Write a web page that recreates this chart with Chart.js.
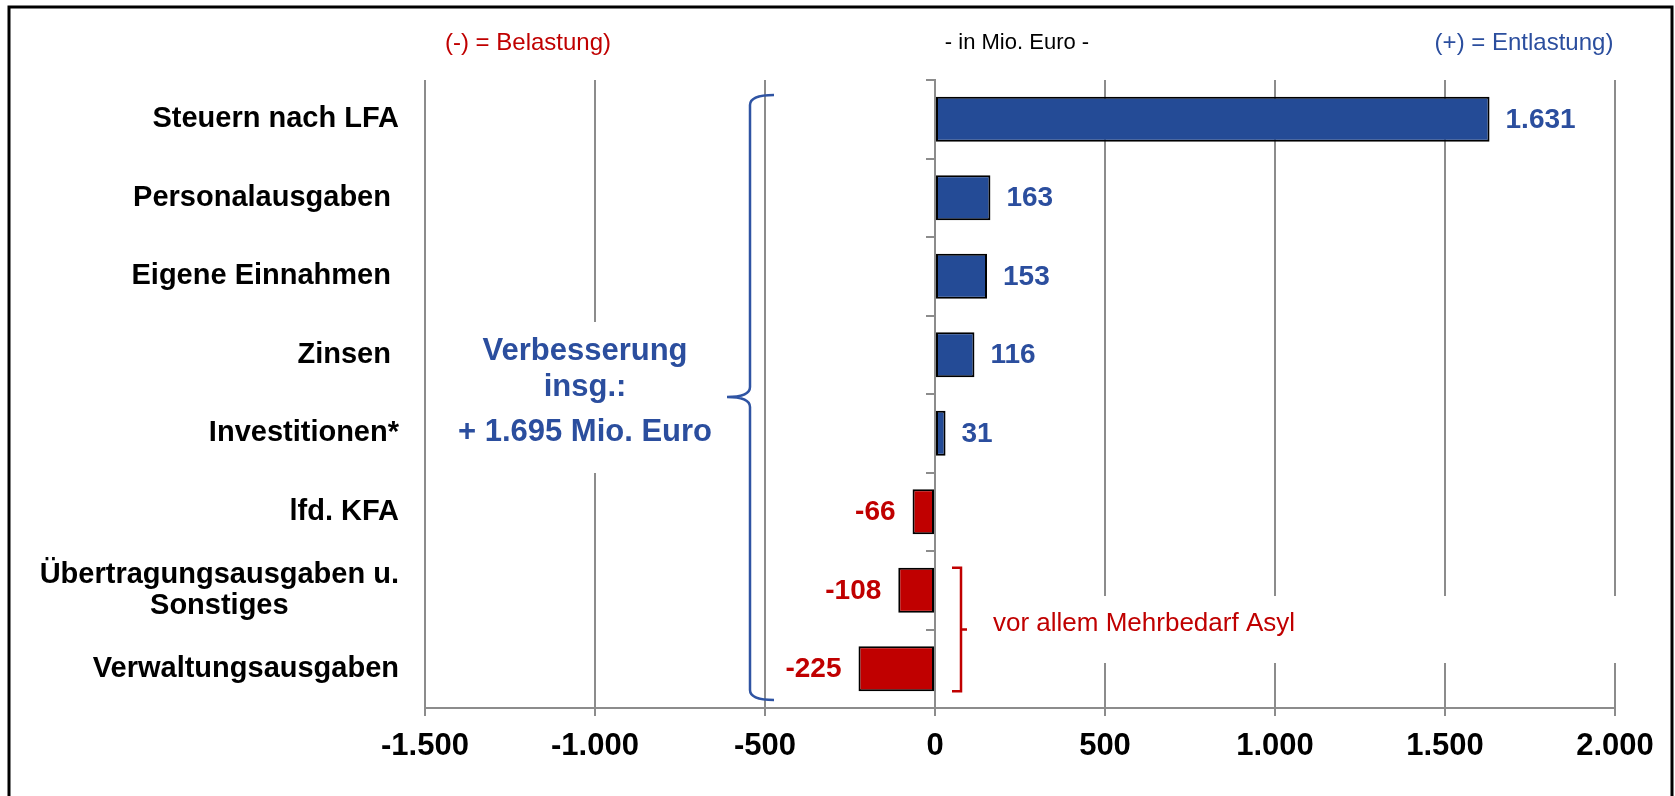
<!DOCTYPE html>
<html>
<head>
<meta charset="utf-8">
<script src="https://cdn.jsdelivr.net/npm/chart.js@4"></script>
<style>
  html, body { margin: 0; padding: 0; background: #fff; }
  #chart { display: block; }
</style>
</head>
<body>
<canvas id="chart" width="1675" height="796"></canvas>
<script>
// Haushaltsentwicklung - Be- und Entlastungen in Mio. Euro
const categories = [
    'Steuern nach LFA',
    'Personalausgaben ',
    'Eigene Einnahmen ',
    'Zinsen ',
    'Investitionen*',
    'lfd. KFA',
    ['Übertragungsausgaben u.', 'Sonstiges'],
    'Verwaltungsausgaben'
];
const values = [1631, 163, 153, 116, 31, -66, -108, -225];
const axisMin = -1500;
const axisMax = 2000;
const axisStep = 500;

const FONT = "'Liberation Sans', Arial, sans-serif";
const BLUE = '#244B96';
const BLUE_TEXT = '#2B4E9E';
const RED = '#C00000';
const GREY = '#8C8C8C';

const fmt = v => {
    const s = String(Math.abs(Math.round(v))).replace(/\B(?=(\d{3})+(?!\d))/g, '.');
    return (v < 0 ? '-' : '') + s;
};

// white boxes behind the annotations (they cut the gridlines)
const annotationBoxes = {
    id: 'annotationBoxes',
    beforeDatasetsDraw(chart) {
        const ctx = chart.ctx;
        ctx.save();
        ctx.fillStyle = '#fff';
        ctx.fillRect(445, 322, 285, 151);
        ctx.fillRect(980, 596, 645, 67);
        ctx.restore();
    }
};

const decorations = {
    id: 'decorations',
    afterDraw(chart) {
        const ctx = chart.ctx;
        const x = chart.scales.x;
        const y = chart.scales.y;
        const area = chart.chartArea;
        ctx.save();

        // frame
        ctx.strokeStyle = '#000';
        ctx.lineWidth = 3;
        ctx.beginPath();
        ctx.moveTo(9, 800);
        ctx.lineTo(9, 7);
        ctx.lineTo(1672, 7);
        ctx.lineTo(1672, 800);
        ctx.stroke();

        // header texts
        ctx.textBaseline = 'middle';
        ctx.textAlign = 'center';
        ctx.font = `24px ${FONT}`;
        ctx.fillStyle = RED;
        ctx.fillText('(-) = Belastung)', 528, 43);
        ctx.fillStyle = BLUE_TEXT;
        ctx.fillText('(+) = Entlastung)', 1524, 43);
        ctx.font = `22px ${FONT}`;
        ctx.fillStyle = '#000';
        ctx.fillText('- in Mio. Euro -', 1017, 43);

        // category labels, block right aligned, lines centred
        ctx.font = `bold 29px ${FONT}`;
        ctx.fillStyle = '#000';
        const right = area.left - 26;
        categories.forEach((c, i) => {
            const lines = Array.isArray(c) ? c : [c];
            const cy = y.getPixelForValue(i);
            if (lines.length === 1) {
                ctx.textAlign = 'right';
                ctx.fillText(lines[0], right, cy);
            } else {
                const w = Math.max(...lines.map(l => ctx.measureText(l).width));
                ctx.textAlign = 'center';
                lines.forEach((l, k) => {
                    ctx.fillText(l, right - w / 2, cy + (k - (lines.length - 1) / 2) * 31);
                });
            }
        });

        // value labels
        ctx.font = `bold 28px ${FONT}`;
        chart.getDatasetMeta(0).data.forEach((bar, i) => {
            const v = values[i];
            if (v >= 0) {
                ctx.textAlign = 'left';
                ctx.fillStyle = BLUE_TEXT;
                ctx.fillText(fmt(v), bar.x + 16, bar.y + 1);
            } else {
                ctx.textAlign = 'right';
                ctx.fillStyle = RED;
                ctx.fillText(fmt(v), bar.x - 17, bar.y + 1);
            }
        });

        // blue brace over all items
        const bx = x.getPixelForValue(-500) - 15;
        const top = area.top + 15;
        const bottom = area.bottom - 8;
        const mid = (y.getPixelForValue(3) + y.getPixelForValue(4)) / 2 + 3;
        ctx.strokeStyle = '#2F54A3';
        ctx.lineWidth = 2.5;
        ctx.beginPath();
        ctx.moveTo(bx + 24, top);
        ctx.quadraticCurveTo(bx, top, bx, top + 10);
        ctx.lineTo(bx, mid - 10);
        ctx.quadraticCurveTo(bx, mid, bx - 23, mid);
        ctx.moveTo(bx - 23, mid);
        ctx.quadraticCurveTo(bx, mid, bx, mid + 10);
        ctx.lineTo(bx, bottom - 10);
        ctx.quadraticCurveTo(bx, bottom, bx + 24, bottom);
        ctx.stroke();

        // blue summary text
        ctx.fillStyle = BLUE_TEXT;
        ctx.font = `bold 31px ${FONT}`;
        ctx.textAlign = 'center';
        ctx.textBaseline = 'alphabetic';
        ctx.fillText('Verbesserung', 585, 360);
        ctx.fillText('insg.:', 585, 396);
        ctx.fillText('+ 1.695 Mio. Euro', 585, 441);

        // red bracket for the last two items
        const meta = chart.getDatasetMeta(0).data;
        const rTop = meta[6].y - meta[6].height / 2;
        const rBot = meta[7].y + meta[7].height / 2;
        const rMid = (rTop + rBot) / 2;
        const rx = x.getPixelForValue(0) + 26;
        ctx.strokeStyle = RED;
        ctx.lineWidth = 2.5;
        ctx.beginPath();
        ctx.moveTo(rx - 9, rTop);
        ctx.lineTo(rx, rTop);
        ctx.lineTo(rx, rBot);
        ctx.lineTo(rx - 9, rBot);
        ctx.moveTo(rx, rMid);
        ctx.lineTo(rx + 6, rMid);
        ctx.stroke();

        ctx.fillStyle = RED;
        ctx.font = `26px ${FONT}`;
        ctx.textAlign = 'left';
        ctx.textBaseline = 'middle';
        ctx.fillText('vor allem Mehrbedarf Asyl', 993, 624);

        ctx.restore();
    }
};

const chart = new Chart(document.getElementById('chart'), {
    type: 'bar',
    data: {
        labels: categories,
        datasets: [{
            data: values,
            backgroundColor: values.map(v => v >= 0 ? BLUE : RED),
            borderColor: '#000',
            borderWidth: 2,
            borderSkipped: false,
            barPercentage: 0.573,
            categoryPercentage: 1
        }]
    },
    options: {
        indexAxis: 'y',
        responsive: false,
        animation: false,
        devicePixelRatio: 1,
        layout: {
            padding: { left: 425, right: 60, top: 80, bottom: 0 }
        },
        plugins: {
            legend: { display: false },
            tooltip: { enabled: false }
        },
        scales: {
            x: {
                type: 'linear',
                position: 'bottom',
                min: axisMin,
                max: axisMax,
                ticks: {
                    stepSize: axisStep,
                    color: '#000',
                    padding: 12,
                    font: { family: FONT, size: 31, weight: 'bold' },
                    callback: v => fmt(v)
                },
                grid: { color: GREY, lineWidth: 2, tickLength: 8 },
                border: { color: GREY, width: 2 },
                afterFit: s => { s.height = 88; }
            },
            y: {
                type: 'category',
                position: { x: 0 },
                ticks: { display: false },
                grid: {
                    display: true,
                    drawOnChartArea: false,
                    offset: true,
                    tickLength: 8,
                    color: GREY,
                    lineWidth: 2
                },
                border: { color: GREY, width: 2 }
            }
        }
    },
    plugins: [annotationBoxes, decorations]
});
</script>
</body>
</html>
